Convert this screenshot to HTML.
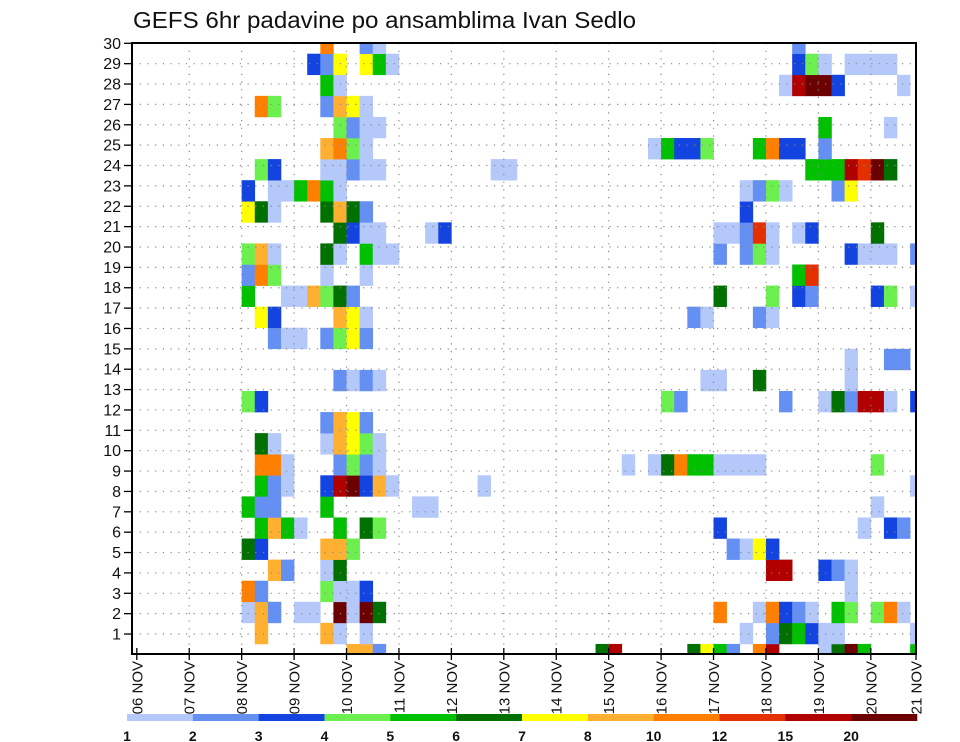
<!DOCTYPE html>
<html><head><meta charset="utf-8"><style>
html,body{margin:0;padding:0;background:#fff;}
svg{display:block;font-family:"Liberation Sans",sans-serif;}
</style></head><body>
<svg id="chart" width="960" height="742" viewBox="0 0 960 742" xmlns="http://www.w3.org/2000/svg">
<rect x="0" y="0" width="960" height="742" fill="#fff"/>
<text x="133" y="28" font-size="23" fill="#111" textLength="503" lengthAdjust="spacingAndGlyphs">GEFS 6hr padavine po ansamblima Ivan Sedlo</text>
<defs><clipPath id="plotclip"><rect x="132" y="43" width="784" height="611"/></clipPath></defs>
<g id="cells" clip-path="url(#plotclip)"></g>
<g id="grid"></g>
<g id="axes"></g>
<g id="legend"></g>
</svg>
<script>
const dayLabels = ["06 NOV","07 NOV","08 NOV","09 NOV","10 NOV","11 NOV","12 NOV","13 NOV","14 NOV","15 NOV","16 NOV","17 NOV","18 NOV","19 NOV","20 NOV","21 NOV"];
const memberLabels = [1,2,3,4,5,6,7,8,9,10,11,12,13,14,15,16,17,18,19,20,21,22,23,24,25,26,27,28,29,30];
const levelLabels = ["1","2","3","4","5","6","7","8","10","12","15","20"];
const levelColors = ["#b4c8fa","#6490f4","#1444e0","#6cf050","#00c000","#007000","#ffff00","#ffb030","#ff8000","#e43000","#b00000","#6c0000"];
const cellMember = [];
const cellStep = [];
const cellLevel = [];
const rowData = {
30:[[14,9],[17,2],[18,1],[50,2]],
29:[[13,3],[14,2],[15,7],[17,7],[18,5],[19,1],[50,3],[51,4],[52,1],[54,1],[55,1],[56,1],[57,1]],
28:[[14,5],[15,1],[49,1],[50,11],[51,12],[52,12],[53,3],[58,1]],
27:[[9,9],[10,4],[14,2],[15,8],[16,7],[17,1]],
26:[[15,4],[16,2],[17,1],[18,1],[52,5],[57,1]],
25:[[14,8],[15,9],[16,4],[17,1],[39,1],[40,5],[41,3],[42,3],[43,4],[47,5],[48,9],[49,3],[50,3],[52,2]],
24:[[9,4],[10,3],[14,1],[15,1],[16,2],[17,1],[18,1],[27,1],[28,1],[51,5],[52,5],[53,5],[54,11],[55,10],[56,12],[57,6]],
23:[[8,3],[10,1],[11,1],[12,5],[13,9],[14,5],[15,1],[46,1],[47,2],[48,4],[49,1],[53,2],[54,7]],
22:[[8,7],[9,6],[10,1],[14,6],[15,8],[16,6],[17,2],[46,3]],
21:[[15,6],[16,3],[17,1],[18,1],[22,1],[23,3],[44,1],[45,1],[46,2],[47,10],[48,1],[50,1],[51,3],[56,6]],
20:[[8,4],[9,8],[10,1],[14,6],[15,1],[17,5],[18,1],[19,1],[44,2],[46,2],[47,4],[48,1],[54,3],[55,1],[56,1],[57,1],[59,2]],
19:[[8,2],[9,9],[10,4],[14,1],[17,1],[50,5],[51,10]],
18:[[8,5],[11,1],[12,1],[13,8],[14,4],[15,6],[16,2],[44,6],[48,4],[50,3],[51,2],[56,3],[57,4],[59,1]],
17:[[9,7],[10,3],[15,8],[16,7],[17,1],[42,2],[43,1],[47,2],[48,1]],
16:[[10,2],[11,1],[12,1],[14,2],[15,4],[16,7],[17,2]],
15:[[54,1],[57,2],[58,2]],
14:[[15,2],[16,1],[17,2],[18,1],[43,1],[44,1],[47,6],[54,1]],
13:[[8,4],[9,3],[40,4],[41,2],[49,2],[52,1],[53,6],[54,2],[55,11],[56,11],[57,1],[59,3]],
12:[[14,2],[15,8],[16,7],[17,2]],
11:[[9,6],[10,1],[14,1],[15,8],[16,7],[17,4],[18,1]],
10:[[9,9],[10,9],[11,1],[15,2],[16,4],[17,2],[18,1],[37,1],[39,1],[40,6],[41,9],[42,5],[43,5],[44,1],[45,1],[46,1],[47,1],[56,4]],
9:[[9,5],[10,2],[11,1],[14,3],[15,11],[16,12],[17,3],[18,8],[19,1],[26,1],[59,1]],
8:[[8,5],[9,2],[10,2],[14,5],[21,1],[22,1],[56,1]],
7:[[9,5],[10,8],[11,5],[12,1],[15,5],[17,6],[18,4],[44,3],[55,1],[57,3],[58,2]],
6:[[8,6],[9,3],[14,8],[15,8],[16,4],[45,2],[46,1],[47,7],[48,3]],
5:[[10,8],[11,2],[14,1],[15,6],[48,11],[49,11],[52,3],[53,2],[54,1]],
4:[[8,9],[9,2],[14,4],[15,1],[16,1],[17,3],[54,1]],
3:[[8,1],[9,8],[10,2],[12,1],[13,1],[15,12],[16,1],[17,12],[18,6],[44,9],[47,1],[48,9],[49,3],[50,2],[51,1],[53,5],[54,4],[56,4],[57,9],[58,1]],
2:[[9,8],[14,8],[15,1],[17,1],[46,1],[48,2],[49,6],[50,5],[51,3],[52,1],[53,1],[59,1]],
1:[[16,8],[17,8],[18,2],[35,6],[36,11],[42,6],[43,7],[44,5],[45,2],[47,9],[48,11],[52,1],[53,6],[54,12],[55,5],[59,5]]
};
for (const m in rowData) { for (const p of rowData[m]) { cellMember.push(+m); cellStep.push(p[0]); cellLevel.push(p[1]); } }

const NS = "http://www.w3.org/2000/svg";
const X0 = 136.8, DAYW = 52.43, STEPW = DAYW/4;
function xDay(d){ return X0 + d*DAYW; }
function xStep(k){ return X0 + k*STEPW; }
const CELLH = 21.08;
function yCell(m){ return 53.7 + (29-m)*CELLH; }
function yLabel(m){ return 43.3 + (30-m)*20.37; }
function mk(tag, attrs, parent){ const e=document.createElementNS(NS,tag); for(const k in attrs) e.setAttribute(k,attrs[k]); parent.appendChild(e); return e; }

const gc = document.getElementById("cells");
for (let i=0;i<cellMember.length;i++){
  const r = mk("rect",{x:xStep(cellStep[i]).toFixed(2),y:yCell(cellMember[i]).toFixed(2),width:(STEPW+0.3).toFixed(2),height:(CELLH+0.3).toFixed(2),fill:levelColors[cellLevel[i]-1]},gc);
  
  
}

const gg = document.getElementById("grid");
for (let i=0;i<memberLabels.length;i++){
  const y = yLabel(memberLabels[i]);
  const l = mk("line",{x1:132,x2:916,y1:y,y2:y,stroke:"#888","stroke-width":1.2,"stroke-dasharray":"1.2 6.5"},gg);
  
  
}
for (let d=1; d<dayLabels.length-1; d++){
  const x = xDay(d);
  const l = mk("line",{x1:x,x2:x,y1:43,y2:654,stroke:"#888","stroke-width":1.2,"stroke-dasharray":"1.2 6.5"},gg);
  
  
}

const ga = document.getElementById("axes");
const frame = mk("rect",{x:132,y:43,width:784,height:611,fill:"none",stroke:"#000","stroke-width":2},ga);


for (let i=0;i<memberLabels.length;i++){
  const y = yLabel(memberLabels[i]);
  const t = mk("line",{x1:124,x2:132,y1:y,y2:y,stroke:"#000","stroke-width":1.3},ga);
  
  
  const tx = mk("text",{x:121,y:y+5.5,"text-anchor":"end","font-size":16,fill:"#111"},ga);
  tx.textContent = memberLabels[i];
  
  
}
for (let d=0; d<dayLabels.length; d++){
  const x = Math.min(xDay(d), 916);
  const t = mk("line",{x1:x,x2:x,y1:648,y2:660,stroke:"#000","stroke-width":1.3},ga);
  
  
  const tx = mk("text",{x:0,y:0,"text-anchor":"end","font-size":15,fill:"#111",transform:`translate(${(x+5.5).toFixed(1)},661) rotate(-90)`},ga);
  tx.textContent = dayLabels[d];
  
  
}

const gl = document.getElementById("legend");
const LX = 127, LW = (917-127)/levelColors.length;
for (let i=0;i<levelColors.length;i++){
  const r = mk("rect",{x:(LX+i*LW).toFixed(2),y:714,width:(LW+0.3).toFixed(2),height:7,fill:levelColors[i]},gl);
  
  
  const t = mk("text",{x:(LX+i*LW).toFixed(2),y:741,"text-anchor":"middle","font-size":14,"font-weight":"bold",fill:"#111"},gl);
  t.textContent = levelLabels[i];
  
  
}
</script>
</body></html>
